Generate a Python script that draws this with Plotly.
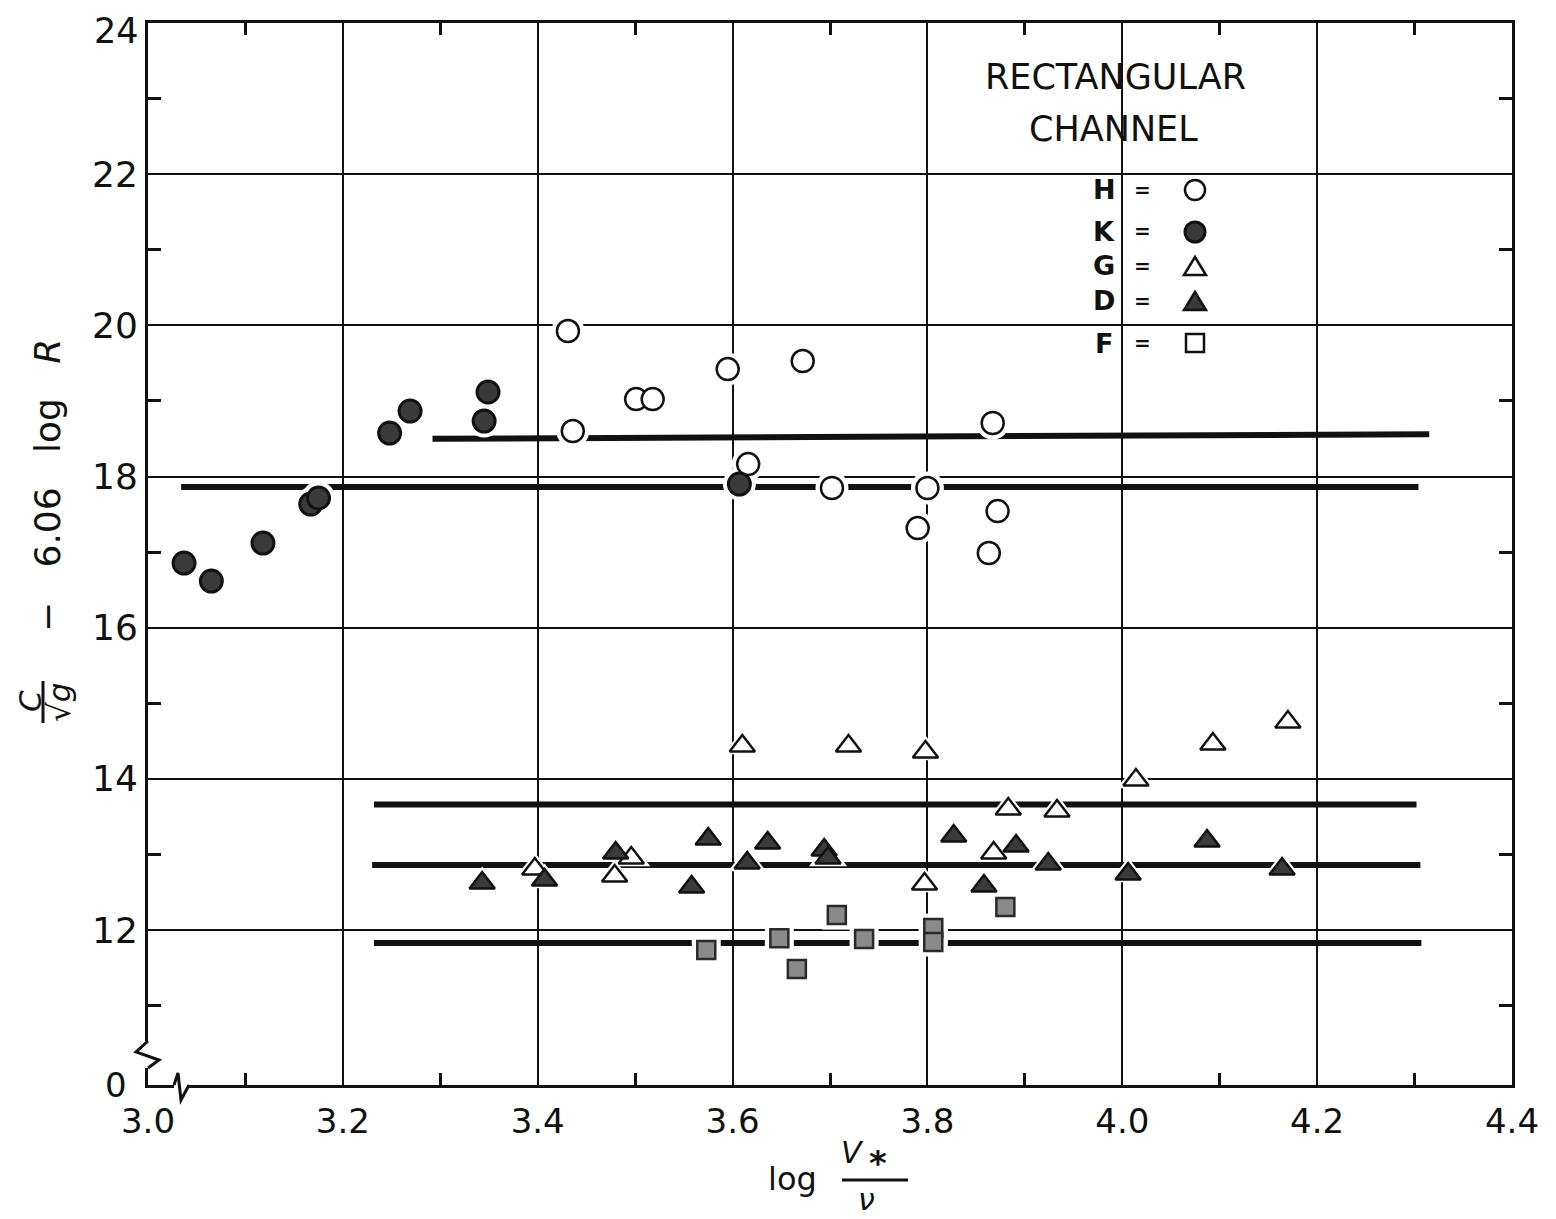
import plotly.graph_objects as go

# ---------------- data ----------------
H_x = [3.431, 3.436, 3.501, 3.518, 3.595, 3.672, 3.616, 3.702, 3.800, 3.790, 3.867, 3.872, 3.863]
H_y = [19.925, 18.602, 19.025, 19.025, 19.422, 19.528, 18.165, 17.848, 17.848, 17.318, 18.708, 17.543, 16.988]

K_x = [3.037, 3.065, 3.118, 3.167, 3.175, 3.248, 3.269, 3.345, 3.349, 3.607]
K_y = [16.855, 16.617, 17.120, 17.636, 17.716, 18.575, 18.866, 18.734, 19.118, 17.900]

G_x = [3.610, 3.719, 3.798, 4.014, 4.093, 4.170, 3.883, 3.933, 3.868, 3.797, 3.397, 3.479, 3.496]
G_y = [14.434, 14.434, 14.355, 13.985, 14.461, 14.752, 13.600, 13.574, 13.018, 12.608, 12.807, 12.714, 12.952]

D_x = [3.343, 3.407, 3.480, 3.558, 3.575, 3.615, 3.636, 3.694, 3.698, 3.827, 3.858, 3.891, 3.924, 4.006, 4.087, 4.164]
D_y = [12.621, 12.661, 13.018, 12.568, 13.204, 12.886, 13.151, 13.058, 12.952, 13.243, 12.582, 13.111, 12.873, 12.741, 13.177, 12.807]

F_x = [3.573, 3.648, 3.666, 3.707, 3.735, 3.806, 3.806, 3.880]
F_y = [11.735, 11.890, 11.484, 12.198, 11.880, 12.026, 11.841, 12.304]

# mean lines (start/end)
K_line_x = [3.034, 4.304]
K_line_y = [17.86, 17.86]
H_line_x = [3.292, 4.315]
H_line_y = [18.50, 18.56]
G_line_x = [3.232, 4.302]
G_line_y = [13.66, 13.66]
D_line_x = [3.230, 4.306]
D_line_y = [12.86, 12.86]
F_line_x = [3.232, 4.307]
F_line_y = [11.83, 11.83]

x_ticks = [3.0, 3.2, 3.4, 3.6, 3.8, 4.0, 4.2, 4.4]
x_ticktext = ["3.0", "3.2", "3.4", "3.6", "3.8", "4.0", "4.2", "4.4"]
x_minor = [3.1, 3.3, 3.5, 3.7, 3.9, 4.1, 4.3]
y_ticks = [12, 14, 16, 18, 20, 22]
y_ticktext = ["12", "14", "16", "18", "20", "22"]
y_top_label = "24"
y_bottom_label = "0"
y_minor = [11, 13, 15, 17, 19, 21, 23]

# ---------------- geometry helpers (screen pixel coords) ----------------
OFF = 8                      # page body margin
W, HGT = 1556 - OFF, 1219 - OFF
PL, PR, PT, PB = 148, 1512, 23, 1085   # plot area edges on screen
PW, PH = PR - PL, PB - PT


def pxx(p):
    return (p - PL) / PW


def pyy(p):
    return (PB - p) / PH


FONT = "DejaVu Sans"
INK = "#111111"
NB = "\u00a0"

fig = go.Figure()

# mean lines
for lx, ly in [(K_line_x, K_line_y), (H_line_x, H_line_y), (G_line_x, G_line_y),
               (D_line_x, D_line_y), (F_line_x, F_line_y)]:
    fig.add_trace(go.Scatter(x=lx, y=ly, mode="lines",
                             line=dict(color=INK, width=6), hoverinfo="skip", showlegend=False))

series = [
    (H_x, H_y, "circle", 22, "white", 2.5, INK),
    (K_x, K_y, "circle", 22, "#3a3a3a", 3, INK),
    (G_x, G_y, "triangle-up", 22, "white", 2.5, INK),
    (D_x, D_y, "triangle-up", 22, "#3a3a3a", 2.5, INK),
    (F_x, F_y, "square", 18, "#8a8a8a", 2.5, "#2a2a2a"),
]

# white halos (gaps in lines/grid around symbols)
for sx, sy, sym, size, fill, lw, lc in series:
    fig.add_trace(go.Scatter(x=sx, y=sy, mode="markers",
                             marker=dict(symbol=sym, size=size + 11, color="white",
                                         line=dict(width=0)),
                             hoverinfo="skip", showlegend=False))

for (sx, sy, sym, size, fill, lw, lc), name in zip(series, ["H", "K", "G", "D", "F"]):
    fig.add_trace(go.Scatter(x=sx, y=sy, mode="markers", name=name,
                             marker=dict(symbol=sym, size=size, color=fill,
                                         line=dict(width=lw, color=lc)),
                             showlegend=False))

shapes = []
annotations = []


def ann(text, x, y, size, angle=0, **kw):
    d = dict(text=text, x=pxx(x), y=pyy(y), xref="paper", yref="paper",
             showarrow=False, textangle=angle,
             font=dict(family=FONT, size=size, color=INK),
             xanchor="center", yanchor="middle")
    d.update(kw)
    annotations.append(d)


# legend panel (blanks grid behind it)
shapes.append(dict(type="rect", xref="paper", yref="paper", layer="between",
                   x0=pxx(930), x1=pxx(1308), y0=pyy(405), y1=pyy(26),
                   fillcolor="white", line=dict(width=0)))

ann("RECTANGULAR", 1115, 77, 35)
ann("CHANNEL", 1113, 129, 35)

legend_rows = [("H", 190), ("K", 231), ("G", 266), ("D", 301), ("F", 343)]
for letter, yy in legend_rows:
    ann("<b>" + letter + "</b>", 1104, yy, 27)
    ann("<b>=</b>", 1142, yy, 20)

# legend keys
cx = 1195
r = 10
shapes.append(dict(type="circle", xref="paper", yref="paper",
                   x0=pxx(cx - r), x1=pxx(cx + r), y0=pyy(190 + r), y1=pyy(190 - r),
                   line=dict(color=INK, width=2.5), fillcolor="white", layer="above"))
shapes.append(dict(type="circle", xref="paper", yref="paper",
                   x0=pxx(cx - r), x1=pxx(cx + r), y0=pyy(232 + r), y1=pyy(232 - r),
                   line=dict(color=INK, width=3), fillcolor="#3a3a3a", layer="above"))


def tri_path(xc, yc, w, h):
    pts = [(xc - w / 2, yc + h / 2), (xc + w / 2, yc + h / 2), (xc, yc - h / 2)]
    return "M {} {} L {} {} L {} {} Z".format(pxx(pts[0][0]), pyy(pts[0][1]),
                                            pxx(pts[1][0]), pyy(pts[1][1]),
                                            pxx(pts[2][0]), pyy(pts[2][1]))


shapes.append(dict(type="path", xref="paper", yref="paper", path=tri_path(cx, 266, 22, 18),
                   line=dict(color=INK, width=2.5), fillcolor="white", layer="above"))
shapes.append(dict(type="path", xref="paper", yref="paper", path=tri_path(cx, 301, 22, 18),
                   line=dict(color=INK, width=2.5), fillcolor="#3a3a3a", layer="above"))
shapes.append(dict(type="rect", xref="paper", yref="paper",
                   x0=pxx(cx - 9), x1=pxx(cx + 9), y0=pyy(343 + 9), y1=pyy(343 - 9),
                   line=dict(color=INK, width=2.5), fillcolor="white", layer="above"))

# axis breaks
shapes.append(dict(type="rect", xref="paper", yref="paper", layer="above",
                   x0=pxx(143), x1=pxx(153), y0=pyy(1068), y1=pyy(1041),
                   fillcolor="white", line=dict(width=0)))
shapes.append(dict(type="path", xref="paper", yref="paper", layer="above",
                   path="M {} {} L {} {} L {} {} L {} {}".format(
                       pxx(148), pyy(1041), pxx(136), pyy(1052), pxx(159), pyy(1060),
                       pxx(148), pyy(1068)),
                   line=dict(color=INK, width=3)))
shapes.append(dict(type="rect", xref="paper", yref="paper", layer="above",
                   x0=pxx(174), x1=pxx(189), y0=pyy(1089), y1=pyy(1081),
                   fillcolor="white", line=dict(width=0)))
shapes.append(dict(type="path", xref="paper", yref="paper", layer="above",
                   path="M {} {} L {} {} L {} {} L {} {}".format(
                       pxx(174), pyy(1085), pxx(178), pyy(1073), pxx(181), pyy(1100),
                       pxx(189), pyy(1085)),
                   line=dict(color=INK, width=3)))

# end labels of the y axis
ann(y_top_label, 116, 9, 35, yanchor="top")
ann(y_bottom_label, 116, 1085, 34)

# y-axis title
ann("\u2212" + NB * 3 + "6.06" + NB * 3 + "log" + NB * 3 + "<i>R</i>", 47, 486, 36, angle=-90)
ann("<i>C</i>", 30, 701, 31, angle=-90)
ann("\u221a<i>g</i>", 59, 703, 31, angle=-90)
shapes.append(dict(type="line", xref="paper", yref="paper", x0=pxx(43), x1=pxx(43),
                   y0=pyy(681), y1=pyy(723), line=dict(color=INK, width=3)))

# x-axis title
ann("log", 792, 1179, 32)
ann("<i>V</i>", 852, 1152, 30)
ann("<b>*</b>", 878, 1163, 34)
ann("<i>\u03bd</i>", 866, 1199, 30)
shapes.append(dict(type="line", xref="paper", yref="paper", x0=pxx(842), x1=pxx(908),
                   y0=pyy(1180), y1=pyy(1180), line=dict(color=INK, width=3)))

fig.update_layout(
    width=W, height=HGT,
    margin=dict(l=PL - OFF, r=W - (PR - OFF), t=PT - OFF, b=HGT - (PB - OFF), pad=0),
    paper_bgcolor="white", plot_bgcolor="white",
    shapes=shapes, annotations=annotations,
    showlegend=False,
)

fig.update_xaxes(
    range=[3.0, 4.4], tickvals=x_ticks, ticktext=x_ticktext,
    showgrid=True, gridcolor=INK, gridwidth=1.5,
    showline=True, linecolor=INK, linewidth=3, mirror="ticks",
    ticks="", zeroline=False, ticklabelstandoff=4, automargin=False,
    tickfont=dict(family=FONT, size=34, color=INK),
    minor=dict(tickvals=x_minor, ticks="inside", ticklen=12, tickwidth=2.5,
               tickcolor=INK, showgrid=False),
)
fig.update_yaxes(
    range=[9.95, 24.0], tickvals=y_ticks, ticktext=y_ticktext,
    showgrid=True, gridcolor=INK, gridwidth=1.5,
    showline=True, linecolor=INK, linewidth=3, mirror="ticks",
    ticks="", zeroline=False, ticklabelstandoff=0, automargin=False,
    tickfont=dict(family=FONT, size=36, color=INK),
    minor=dict(tickvals=y_minor, ticks="inside", ticklen=13, tickwidth=2.5,
               tickcolor=INK, showgrid=False),
)

fig.write_html("out.html")
